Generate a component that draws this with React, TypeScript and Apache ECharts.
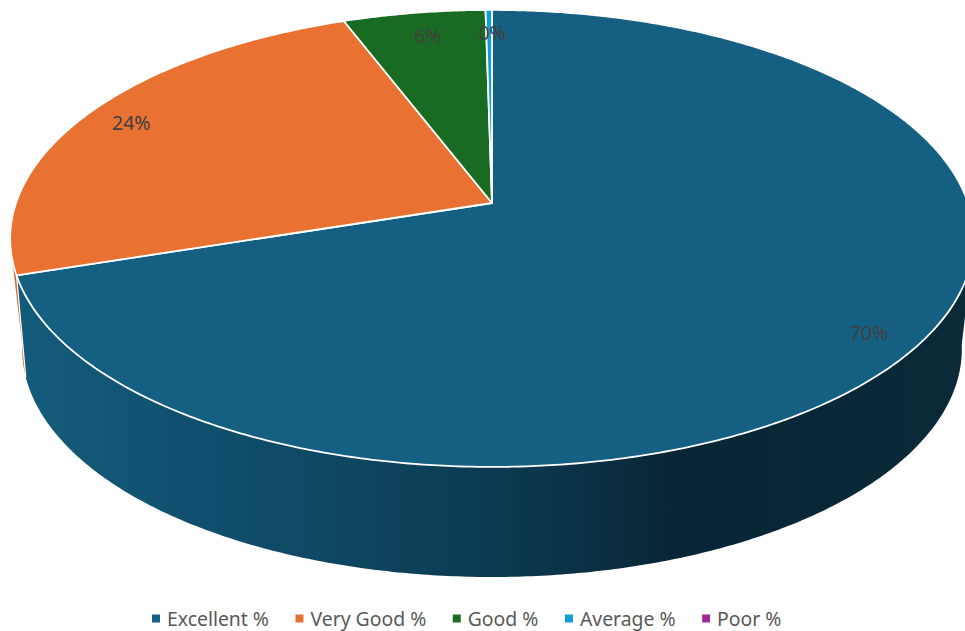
import React, { useEffect, useRef } from "react";
import * as echarts from "echarts";

const categories = ["Excellent %", "Very Good %", "Good %", "Average %", "Poor %"];
const values = [70, 24.2, 5.55, 0.25, 0];
const colors = ["#156082", "#E97132", "#196B24", "#0F9ED5", "#A02B93"];
const wallColors = ["#156082", "#D9682C", "#14561D", "#0C7FAB", "#802276"];

const TOP = { x: 492, y: 203, a: 223, b: 476, p: 0.155 };
const BOTTOM = { x: 492, y: 305, a: 219.5, b: 461, p: 0.193 };
const LABEL_RADIUS = 0.89;
const LABEL_NUDGE = [[4, 3], [0, 0], [6, 4], [3, 4], [0, 0]];

function project(plane: typeof TOP, deg: number, r = 1): number[] {
  const t = (deg * Math.PI) / 180;
  const u = Math.sin(t) * r;
  const v = Math.cos(t) * r;
  const d = 1 + plane.p * v;
  return [plane.x + (plane.b * u) / d, plane.y - (plane.a * v) / d];
}

function sliceAngles(index: number): number[] {
  const total = values.reduce((s, v) => s + v, 0);
  const before = values.slice(0, index).reduce((s, v) => s + v, 0);
  return [(before / total) * 360, ((before + values[index]) / total) * 360];
}

function arc(plane: typeof TOP, start: number, end: number): number[][] {
  const steps = Math.max(2, Math.ceil((end - start) / 0.5));
  const pts: number[][] = [];
  for (let i = 0; i <= steps; i++) pts.push(project(plane, start + ((end - start) * i) / steps));
  return pts;
}

// The angles at which the side wall's outline leaves the top ellipse on each side.
function silhouetteAngles(): number[] {
  let right = 90;
  let left = 270;
  let maxX = -Infinity;
  let minX = Infinity;
  for (let a = 0; a <= 360; a += 0.25) {
    const x = project(TOP, a)[0] + project(BOTTOM, a)[0];
    if (a <= 180 && x > maxX) {
      maxX = x;
      right = a;
    }
    if (a >= 180 && x < minX) {
      minX = x;
      left = a;
    }
  }
  return [right, left];
}

function renderTop(index: number) {
  return (_params: any, api: any) => {
    const value = api.value(0);
    if (!(value > 0)) return { type: "group", children: [] };
    const [start, end] = sliceAngles(index);
    const mid = (start + end) / 2;
    const [lx, ly] = project(TOP, mid, LABEL_RADIUS);
    return {
      type: "group",
      children: [
        {
          type: "polygon",
          shape: { points: [[TOP.x, TOP.y], ...arc(TOP, start, end)] },
          style: { fill: colors[index], stroke: "#ffffff", lineWidth: 1.8, lineJoin: "round" },
        },
        {
          type: "text",
          z2: 10,
          style: {
            x: lx + LABEL_NUDGE[index][0],
            y: ly + LABEL_NUDGE[index][1],
            text: `${Math.round(value)}%`,
            fill: "#404040",
            font: '19.5px "Noto Sans", sans-serif',
            align: "center",
            verticalAlign: "middle",
          },
        },
      ],
    };
  };
}

function renderWall(params: any, api: any) {
  const index = params.dataIndex;
  if (!(api.value(0) > 0)) return { type: "group", children: [] };
  const [sliceStart, sliceEnd] = sliceAngles(index);
  const [right, left] = silhouetteAngles();
  const start = Math.max(sliceStart, right);
  const end = Math.min(sliceEnd, left);
  if (start >= end) return { type: "group", children: [] };
  const fill =
    index === 0
      ? new echarts.graphic.LinearGradient(
          20, 0, 965, 0,
          [
            { offset: 0, color: "#145B7B" },
            { offset: 0.25, color: "#0F4C69" },
            { offset: 0.5, color: "#0C3B52" },
            { offset: 0.69, color: "#082636" },
            { offset: 1, color: "#0A2A38" },
          ],
          true
        )
      : wallColors[index];
  const children: any[] = [
    {
      type: "polygon",
      shape: { points: [...arc(TOP, start, end), ...arc(BOTTOM, start, end).reverse()] },
      style: { fill },
    },
  ];
  if (index === 0) {
    const p1 = project(TOP, end);
    const p2 = project(BOTTOM, end);
    children.push({
      type: "line",
      z2: 5,
      shape: { x1: p1[0], y1: p1[1], x2: p2[0], y2: p2[1] },
      style: { stroke: "#ffffff", lineWidth: 1.2 },
    });
  }
  return { type: "group", children };
}

export default function App() {
  const ref = useRef<HTMLDivElement>(null);
  useEffect(() => {
    document.body.style.margin = "0";
    const chart = echarts.init(ref.current!, undefined, { renderer: "svg" });
    chart.setOption({
      animation: false,
      backgroundColor: "#ffffff",
      legend: {
        data: categories,
        left: 147,
        top: 604,
        icon: "rect",
        itemWidth: 8,
        itemHeight: 8,
        itemGap: 26.5,
        textStyle: {
          color: "#595959",
          fontSize: 19.4,
          fontFamily: '"Noto Sans", sans-serif',
          padding: [0, 0, 0, 2],
        },
      },
      series: [
        {
          type: "custom",
          name: "wall",
          coordinateSystem: "none",
          silent: true,
          z: 1,
          data: values.map((v) => [v]),
          renderItem: renderWall,
        },
        ...categories.map((name, i) => ({
          type: "custom",
          name,
          coordinateSystem: "none",
          silent: true,
          z: 2,
          itemStyle: { color: colors[i] },
          data: [[values[i]]],
          renderItem: renderTop(i),
        })),
      ],
    });
    return () => chart.dispose();
  }, []);
  return <div ref={ref} style={{ width: 965, height: 631, overflow: "hidden" }} />;
}
